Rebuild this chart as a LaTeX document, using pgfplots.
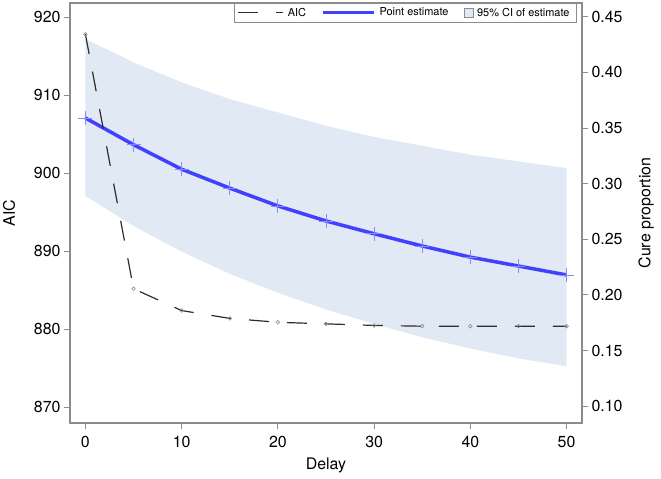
\documentclass[border=0pt]{standalone}
\usepackage{fontspec}
\setmainfont{TeX Gyre Heros}
\usepackage{pgfplots}
\pgfplotsset{compat=1.18}
\usepgfplotslibrary{fillbetween}
\usetikzlibrary{calc}

\definecolor{band}{RGB}{225,233,244}
\definecolor{est}{RGB}{64,64,255}
\definecolor{estmark}{RGB}{135,135,255}
\definecolor{axgray}{RGB}{140,140,140}
\definecolor{aicline}{RGB}{45,45,45}

\pgfplotstableread{
delay aic
0  917.8
5  885.2
10 882.4
15 881.4
20 880.9
25 880.7
30 880.5
35 880.4
40 880.4
45 880.4
50 880.4
}\aictable

\pgfplotstableread{
delay est   lo    hi
0  0.359 0.289 0.430
5  0.335 0.262 0.409
10 0.313 0.239 0.391
15 0.296 0.219 0.376
20 0.280 0.202 0.364
25 0.2665 0.187 0.352
30 0.255 0.174 0.342
35 0.244 0.162 0.334
40 0.234 0.152 0.326
45 0.226 0.143 0.320
50 0.218 0.136 0.314
}\curetable

\pgfplotsset{
  base/.style={
    scale only axis, width=512bp, height=420bp,
    xmin=-1.6, xmax=51.6,
    axis line style={axgray, line width=1.4bp},
    tick style={axgray, line width=1bp},
    tick align=outside, major tick length=6bp,
    tick label style={font=\fontsize{16}{16}\selectfont},
    label style={font=\fontsize{16}{16}\selectfont},
    /pgf/number format/assume math mode=true,
  },
}

\begin{document}
\begin{tikzpicture}
% right axis: cure proportion
\begin{axis}[base,
  axis x line=none, axis y line*=right,
  ymin=0.085, ymax=0.4623,
  ytick={0.10,0.15,0.20,0.25,0.30,0.35,0.40,0.45},
  yticklabel style={/pgf/number format/.cd, fixed, fixed zerofill, precision=2},
  ylabel={Cure proportion}, ylabel shift=9bp,
]
\addplot[name path=hi, draw=none, forget plot] table[x=delay, y=hi] {\curetable};
\addplot[name path=lo, draw=none, forget plot] table[x=delay, y=lo] {\curetable};
\addplot[band, forget plot] fill between[of=hi and lo];
\addplot[est, line width=3.5bp, mark=+, mark size=7bp,
  mark options={estmark, line width=0.8bp}] table[x=delay, y=est] {\curetable};
\end{axis}

% left axis: AIC, with the frame and x axis
\begin{axis}[base, name=ax,
  ymin=868, ymax=921.8,
  ytick={870,880,...,920},
  xtick={0,10,...,50},
  xtick pos=bottom, ytick pos=left,
  xticklabel shift=4bp,
  xlabel={Delay}, ylabel={AIC},
  xlabel shift=3bp, ylabel shift=12bp,
  legend columns=3,
  legend style={at={(0.99,1)}, anchor=north east,
    draw=axgray, line width=0.8bp,
    font=\fontsize{11}{11}\selectfont,
    inner xsep=3bp, inner ysep=2.5bp,
    nodes={inner xsep=4bp},
    /tikz/every even column/.append style={column sep=11bp}},
]
\addplot[aicline, line width=1.2bp, dash pattern=on 20bp off 18bp,
  mark=o, mark size=1.8bp, mark options={solid, draw=gray!90, line width=0.6bp},
  legend image code/.code={\draw[aicline, line width=1.2bp, dash pattern=on 20bp off 18bp] (0bp,0bp) -- (45bp,0bp);}]
  table[x=delay, y=aic] {\aictable};
\addlegendentry{AIC}
\addlegendimage{legend image code/.code={\draw[est, line width=3.5bp] (0bp,0bp) -- (51bp,0bp);}}
\addlegendentry{Point estimate}
\addlegendimage{legend image code/.code={\draw[fill=band, draw=axgray, line width=0.6bp] (0bp,-4.5bp) rectangle (9bp,4.5bp);}}
\addlegendentry{95\% CI of estimate}
\end{axis}

\pgfresetboundingbox
\useasboundingbox ($(ax.south west)+(-70bp,-56bp)$) rectangle ($(ax.north east)+(79bp,3bp)$);
\end{tikzpicture}
\end{document}
